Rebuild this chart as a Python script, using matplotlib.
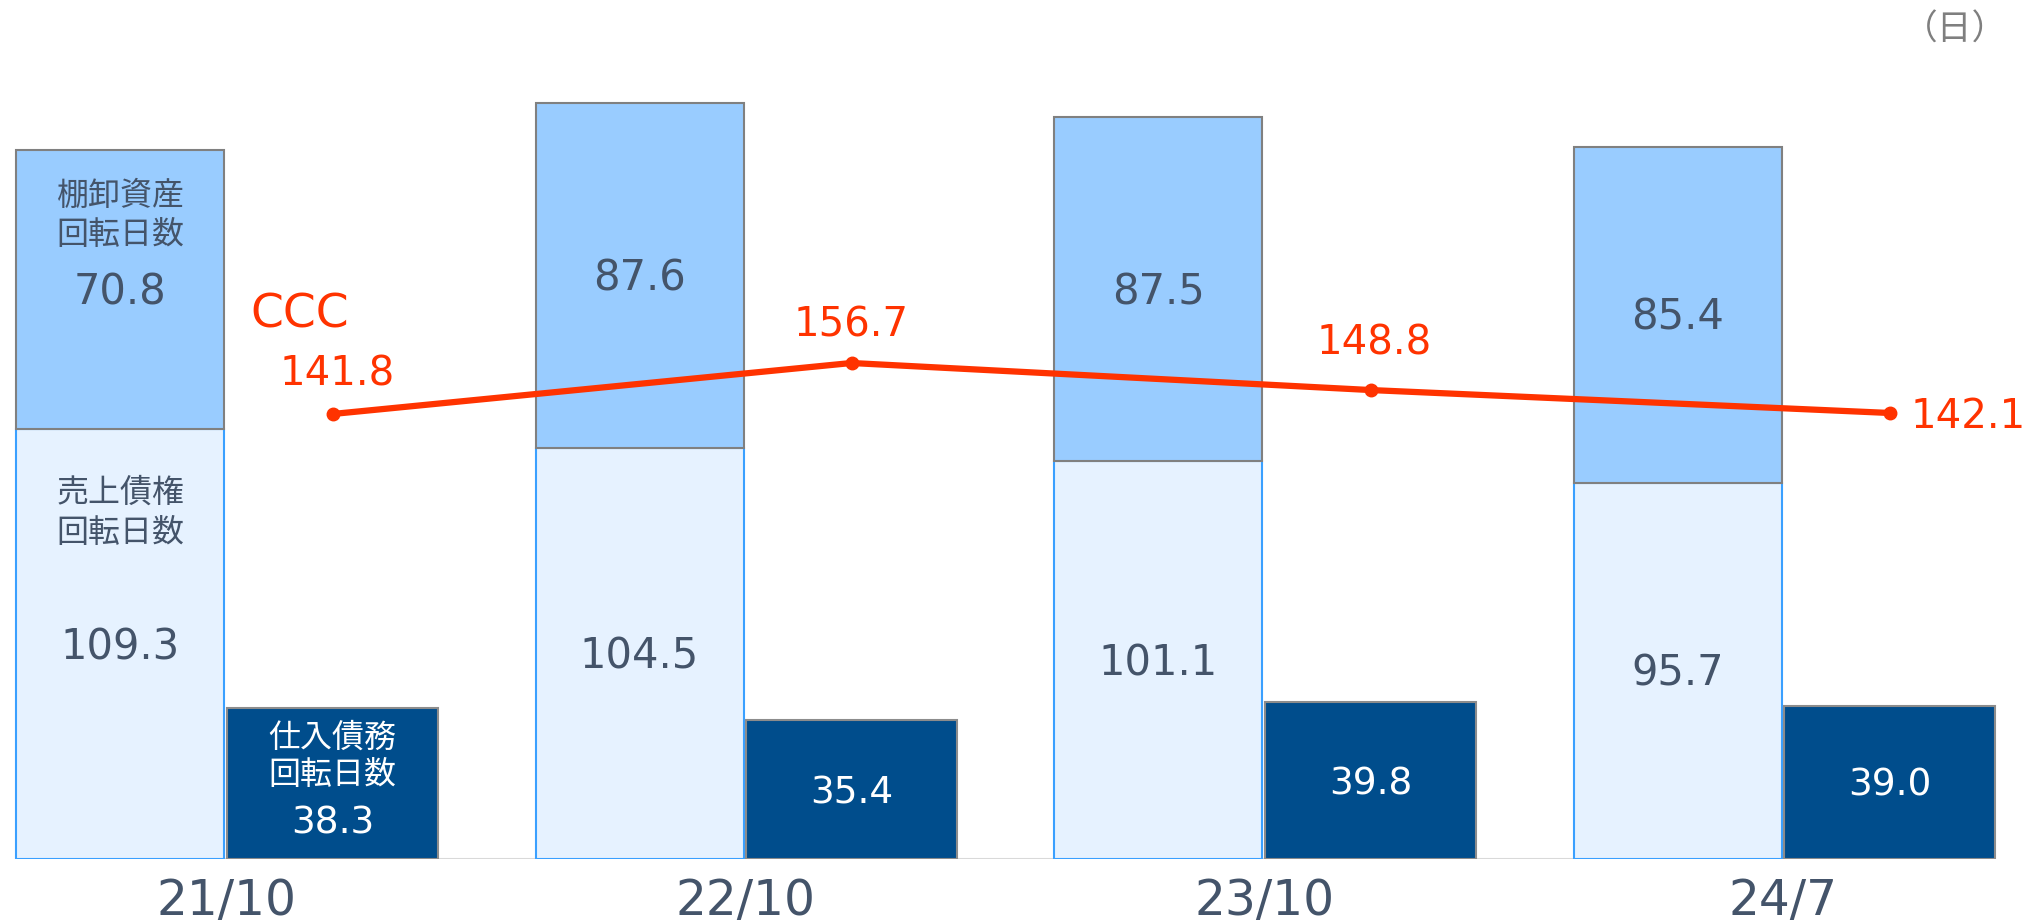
import matplotlib
matplotlib.use("Agg")
import matplotlib.pyplot as plt
import numpy as np

plt.rcParams['font.family'] = ['DejaVu Sans', 'Noto Sans CJK JP']

# ---- data ----
categories = ['21/10', '22/10', '23/10', '24/7']
receivable_days = [109.3, 104.5, 101.1, 95.7]
inventory_days = [70.8, 87.6, 87.5, 85.4]
payable_days = [38.3, 35.4, 39.8, 39.0]
ccc_days = [141.8, 156.7, 148.8, 142.1]

inv_label = ['棚卸資産', '回転日数']
rec_label = ['売上債権', '回転日数']
pay_label = ['仕入債務', '回転日数']

# ---- style ----
TEXT = '#44546A'
RED = '#FF3300'
LIGHT = '#E6F2FF'
MID = '#99CCFF'
DARK = '#004D8C'

W, H = 2026, 921
fig = plt.figure(figsize=(W / 100, H / 100), dpi=100)
base_px = 859
ax = fig.add_axes([0, (H - base_px) / H, 1, base_px / H])
px_per_unit = 3.934
spacing = 519
x = np.arange(len(categories))
off = 106 / spacing
bw = 208 / spacing
ax.set_xlim(-226.5 / spacing, (W - 226.5) / spacing)
ax.set_ylim(0, base_px / px_per_unit)
for s in ax.spines.values():
    s.set_visible(False)
ax.set_xticks([])
ax.set_yticks([])

# baseline
ax.hlines(0, x[0] - off - bw / 2, x[-1] + off + bw / 2, color='#D9D9D9', lw=1.5, zorder=1)

ax.bar(x - off, receivable_days, bw, color=LIGHT, edgecolor='#3AA0FF', lw=1.5, zorder=2)
ax.bar(x - off, inventory_days, bw, bottom=receivable_days, color=MID,
       edgecolor='#808080', lw=1.5, zorder=3)
ax.bar(x + off, payable_days, bw * 1.01, color=DARK, edgecolor='#8C8C8C', lw=1.5, zorder=2)


def ink_center(size, cjk=False):
    """pixels between baseline and visual center of glyphs"""
    em = size * 100 / 72
    return em * (0.38 if cjk else 0.3645)


def put(axis, xd, yd, dy_px, s, size, cjk=False, dx_px=0, ha='center', **kw):
    """place text whose visual center is dy_px pixels below (xd, yd)"""
    axis.annotate(s, xy=(xd, yd), xytext=(dx_px, -dy_px - ink_center(size, cjk)),
                  textcoords='offset pixels', ha=ha, va='baseline', fontsize=size, **kw)


VAL = 30
PAYV = 27
LAB = 23
for i in range(len(categories)):
    r, v, p = receivable_days[i], inventory_days[i], payable_days[i]
    top = r + v
    put(ax, x[i] - off, r + v / 2, 0, f'{v:.1f}', VAL, color=TEXT, zorder=5)
    put(ax, x[i] - off, r / 2, 0, f'{r:.1f}', VAL, color=TEXT, zorder=5)
    if i == 0:
        put(ax, x[i] - off, top, 42, inv_label[0], LAB, cjk=True, color=TEXT, zorder=5)
        put(ax, x[i] - off, top, 81, inv_label[1], LAB, cjk=True, color=TEXT, zorder=5)
        put(ax, x[i] - off, r, 61, rec_label[0], LAB, cjk=True, color=TEXT, zorder=5)
        put(ax, x[i] - off, r, 101, rec_label[1], LAB, cjk=True, color=TEXT, zorder=5)
        put(ax, x[i] + off, p, 26, pay_label[0], LAB, cjk=True, color='white', zorder=5)
        put(ax, x[i] + off, p, 64, pay_label[1], LAB, cjk=True, color='white', zorder=5)
        put(ax, x[i] + off, p, 112, f'{p:.1f}', PAYV, color='white', zorder=5)
    else:
        put(ax, x[i] + off, p / 2, 0, f'{p:.1f}', PAYV, color='white', zorder=5)
    put(ax, x[i], 0, 38, categories[i], 35, color=TEXT)

# CCC line on secondary axis
ax2 = ax.twinx()
ax2.set_position(ax.get_position())
ccc_px = 3.423
ax2.set_ylim(141.8 - (base_px - 414) / ccc_px, 141.8 + 414 / ccc_px)
ax2.set_xlim(ax.get_xlim())
for s in ax2.spines.values():
    s.set_visible(False)
ax2.set_yticks([])
ax2.plot(x + off, ccc_days, color=RED, lw=4.5, marker='o', ms=9, zorder=6)

label_offsets = [(5, 43), (0, 41), (4, 50)]
CCCV = 29
for i, v in enumerate(ccc_days):
    if i < len(ccc_days) - 1:
        dx, dy = label_offsets[i]
        put(ax2, x[i] + off, v, -dy, f'{v:.1f}', CCCV, dx_px=dx, color=RED)
    else:
        put(ax2, x[i] + off, v, 0, f'{v:.1f}', CCCV, dx_px=21, ha='left', color=RED)
put(ax2, x[0] + off, ccc_days[0], -104, 'CCC', 34, dx_px=-82, ha='left', color=RED)

fig.text(1955 / W, 1 - 30 / H, '（日）', ha='center', va='center', fontsize=25, color='#7F7F7F')

fig.savefig('out.png', dpi=100)
